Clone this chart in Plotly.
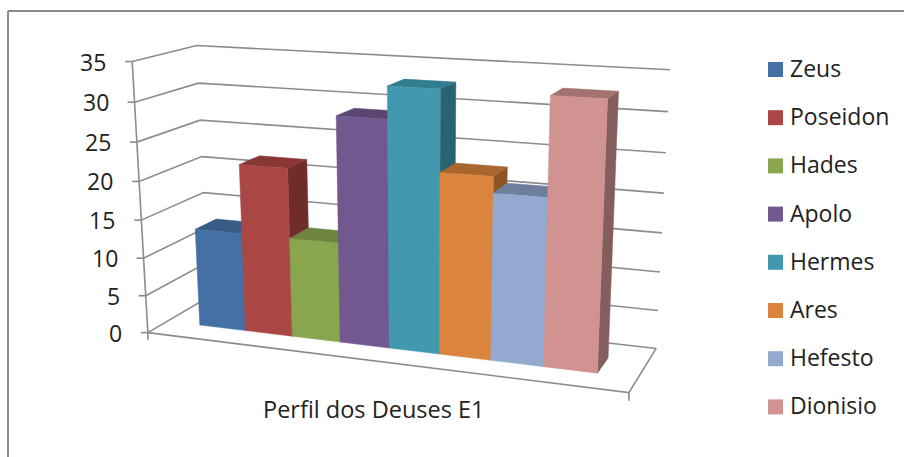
import numpy as np
import plotly.graph_objects as go

series = ["Zeus", "Poseidon", "Hades", "Apolo", "Hermes", "Ares", "Hefesto", "Dionisio"]
values = [13, 22, 13, 29, 33, 23, 21, 33]
ticks = [0, 5, 10, 15, 20, 25, 30, 35]
front_colors = ["#4470A5", "#AA4643", "#89A54E", "#71588F", "#4198AF", "#DB843D", "#93A9CF", "#D19392"]
top_colors = ["#375C85", "#893735", "#6F853F", "#5B4672", "#327D90", "#A9662E", "#6E7F9D", "#A37271"]
side_colors = ["#2C4A6C", "#6F2C2B", "#5A6C33", "#49385C", "#296270", "#8D5522", "#586580", "#845D5D"]
axis_title = "Perfil dos Deuses E1"

ZMAX = 35.0
# camera calibration: (category position, depth, value) -> page pixel
cal_world = [(0, 0, 0), (1, 0, 0), (1, 1, 0), (0, 1, 0), (0, 0, 35), (1, 1, 35), (0, 1, 35)]
cal_px = [(147, 331), (629, 394), (656, 347), (209, 299), (133, 62), (670, 70), (196, 45)]
rows = []
for (u, v, z), (x, y) in zip(cal_world, cal_px):
    z = z / ZMAX
    rows.append([u, v, z, 1, 0, 0, 0, 0, -x * u, -x * v, -x * z, -x])
    rows.append([0, 0, 0, 0, u, v, z, 1, -y * u, -y * v, -y * z, -y])
P = np.linalg.svd(np.array(rows, float))[2][-1].reshape(3, 4)


def proj(u, v, z):
    p = P @ np.array([u, v, z / ZMAX, 1.0])
    return p[0] / p[2], p[1] / p[2]


GRID = "#8C8C8C"
TEXT = "#222222"
FONT = "Open Sans"
FS = 23


def poly(points, color, name):
    xy = [proj(*p) for p in points]
    xs = [a for a, _ in xy] + [xy[0][0]]
    ys = [b for _, b in xy] + [xy[0][1]]
    return go.Scatter(x=xs, y=ys, mode="lines", fill="toself", fillcolor=color,
                      line=dict(color=color, width=0.5), name=name, hoverinfo="skip", showlegend=False)


def line(points, width=1.6, color=GRID):
    xy = [proj(*p) for p in points]
    return go.Scatter(x=[a for a, _ in xy], y=[b for _, b in xy], mode="lines",
                      line=dict(color=color, width=width), hoverinfo="skip", showlegend=False)


fig = go.Figure()

# walls and floor
for t in ticks:
    fig.add_trace(line([(0, 0, t), (0, 1, t), (1, 1, t)]))
fig.add_trace(line([(0, 0, 0), (1, 0, 0), (1, 1, 0)]))
fig.add_trace(line([(0, 0, 0), (0, 0, ZMAX)]))

# value-axis tick marks and labels
for t in ticks:
    x, y = proj(0, 0, t)
    fig.add_trace(go.Scatter(x=[x - 7, x], y=[y, y], mode="lines", line=dict(color=GRID, width=1.6),
                             hoverinfo="skip", showlegend=False))
    fig.add_annotation(x=x - 24, y=y, text=str(t), showarrow=False, xanchor="right", yanchor="middle",
                       font=dict(family=FONT, size=FS, color=TEXT))
x, y = proj(0, 0, 0)
fig.add_trace(go.Scatter(x=[x, x], y=[y, y + 7], mode="lines", line=dict(color=GRID, width=1.6),
                         hoverinfo="skip", showlegend=False))
x, y = proj(1, 0, 0)
fig.add_trace(go.Scatter(x=[x, x], y=[y, y + 8], mode="lines", line=dict(color=GRID, width=1.6),
                         hoverinfo="skip", showlegend=False))

# bars, painted left to right
U0, W, V0, V1 = 0.076, 0.1058, 0.31, 0.66
for i, (name, val) in enumerate(zip(series, values)):
    a, b = U0 + i * W, U0 + (i + 1) * W
    fig.add_trace(poly([(b, V0, 0), (b, V1, 0), (b, V1, val), (b, V0, val)], side_colors[i], name))
    fig.add_trace(poly([(a, V0, val), (b, V0, val), (b, V1, val), (a, V1, val)], top_colors[i], name))
    fig.add_trace(poly([(a, V0, 0), (b, V0, 0), (b, V0, val), (a, V0, val)], front_colors[i], name))

# legend
LEG_Y0, LEG_STEP = 69.5, 48.2
leg_y = [LEG_Y0 + i * LEG_STEP for i in range(len(series))]
fig.add_trace(go.Scatter(x=[775.5] * len(series), y=leg_y, mode="markers",
                         marker=dict(symbol="square", size=15, color=front_colors, line=dict(width=0)),
                         hoverinfo="skip", showlegend=False))
for name, y in zip(series, leg_y):
    fig.add_annotation(x=787.5, y=y - 1.5, text=name, showarrow=False, xanchor="left", yanchor="middle",
                       font=dict(family=FONT, size=FS, color=TEXT))

fig.add_annotation(x=373, y=409, text=axis_title, showarrow=False, xanchor="center", yanchor="middle",
                   font=dict(family=FONT, size=23.5, color=TEXT))

# chart-area frame
fig.add_shape(type="line", x0=8, y0=11, x1=904, y1=11, line=dict(color="#8A8A8A", width=2))
fig.add_shape(type="line", x0=8, y0=11, x1=8, y1=457, line=dict(color="#8A8A8A", width=2))

fig.update_layout(
    width=904, height=457, margin=dict(l=0, r=0, t=0, b=0),
    paper_bgcolor="white", plot_bgcolor="white", showlegend=False,
    xaxis=dict(range=[0, 904], visible=False, fixedrange=True),
    yaxis=dict(range=[457, 0], visible=False, fixedrange=True),
)
fig.write_html("out.html", config={"displayModeBar": False},
               post_script="document.documentElement.style.overflow='hidden';document.body.style.margin='0';")
